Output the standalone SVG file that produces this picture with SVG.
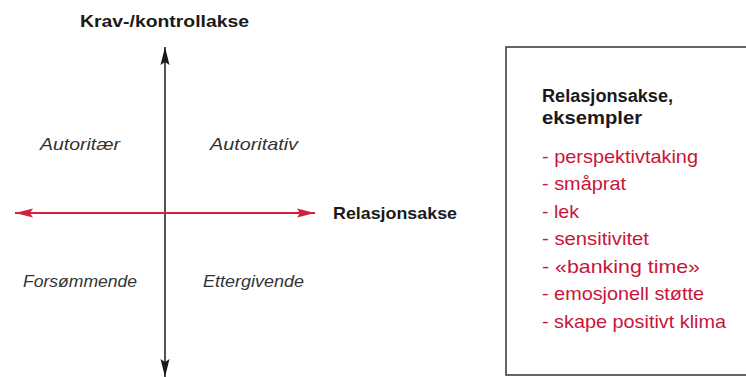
<svg xmlns="http://www.w3.org/2000/svg" width="746" height="377" viewBox="0 0 746 377">
<style>
.t{font-family:"Liberation Sans",Arial,sans-serif;}
.b{font-weight:bold;font-size:17px;fill:#1a1a1a;}
.bb{font-weight:bold;font-size:18px;fill:#1a1a1a;}
.q{font-style:italic;font-size:16.5px;fill:#333;}
.r{font-size:19px;fill:#c8153a;}
</style>
<defs>
<marker id="ab" viewBox="0 0 18 10" refX="18" refY="5" markerWidth="18" markerHeight="10" markerUnits="userSpaceOnUse" orient="auto-start-reverse"><path d="M0,0.5 L18,5 L0,9.5 L3,5 Z" fill="#1a1a1a"/></marker>
<marker id="ar" viewBox="0 0 18 10" refX="18" refY="5" markerWidth="18" markerHeight="10" markerUnits="userSpaceOnUse" orient="auto-start-reverse"><path d="M0,0.5 L18,5 L0,9.5 L3,5 Z" fill="#d3203f"/></marker>
</defs>
<rect width="746" height="377" fill="#fff"/>
<g id="connectors">
<line x1="165" y1="47" x2="165" y2="377" stroke="#1a1a1a" stroke-width="1.5" marker-start="url(#ab)" marker-end="url(#ab)"/>
<line x1="15" y1="213" x2="315" y2="213" stroke="#d3203f" stroke-width="2" marker-start="url(#ar)" marker-end="url(#ar)"/>
</g>
<g id="axis-labels">
<text class="t b" x="80" y="27" textLength="169" lengthAdjust="spacingAndGlyphs">Krav-/kontrollakse</text>
<text class="t b" x="333" y="219" textLength="124" lengthAdjust="spacingAndGlyphs">Relasjonsakse</text>
</g>
<g id="quadrants">
<text class="t q" x="40" y="150" textLength="80" lengthAdjust="spacingAndGlyphs">Autoritær</text>
<text class="t q" x="210" y="150" textLength="88" lengthAdjust="spacingAndGlyphs">Autoritativ</text>
<text class="t q" x="23" y="287" textLength="114" lengthAdjust="spacingAndGlyphs">Forsømmende</text>
<text class="t q" x="203" y="287" textLength="101" lengthAdjust="spacingAndGlyphs">Ettergivende</text>
</g>
<g id="examples-box">
<rect x="506" y="47" width="245" height="328" fill="#fff" stroke="#333" stroke-width="1.5"/>
<text class="t bb" x="542" y="102" textLength="131" lengthAdjust="spacingAndGlyphs">Relasjonsakse,</text>
<text class="t bb" x="542" y="124" textLength="100" lengthAdjust="spacingAndGlyphs">eksempler</text>
<text class="t r" x="542" y="163" textLength="156" lengthAdjust="spacingAndGlyphs">- perspektivtaking</text>
<text class="t r" x="542" y="190" textLength="84" lengthAdjust="spacingAndGlyphs">- småprat</text>
<text class="t r" x="542" y="218" textLength="37" lengthAdjust="spacingAndGlyphs">- lek</text>
<text class="t r" x="542" y="245" textLength="107" lengthAdjust="spacingAndGlyphs">- sensitivitet</text>
<text class="t r" x="542" y="273" textLength="158" lengthAdjust="spacingAndGlyphs">- «banking time»</text>
<text class="t r" x="542" y="300" textLength="162" lengthAdjust="spacingAndGlyphs">- emosjonell støtte</text>
<text class="t r" x="542" y="328" textLength="184" lengthAdjust="spacingAndGlyphs">- skape positivt klima</text>
</g>
</svg>
